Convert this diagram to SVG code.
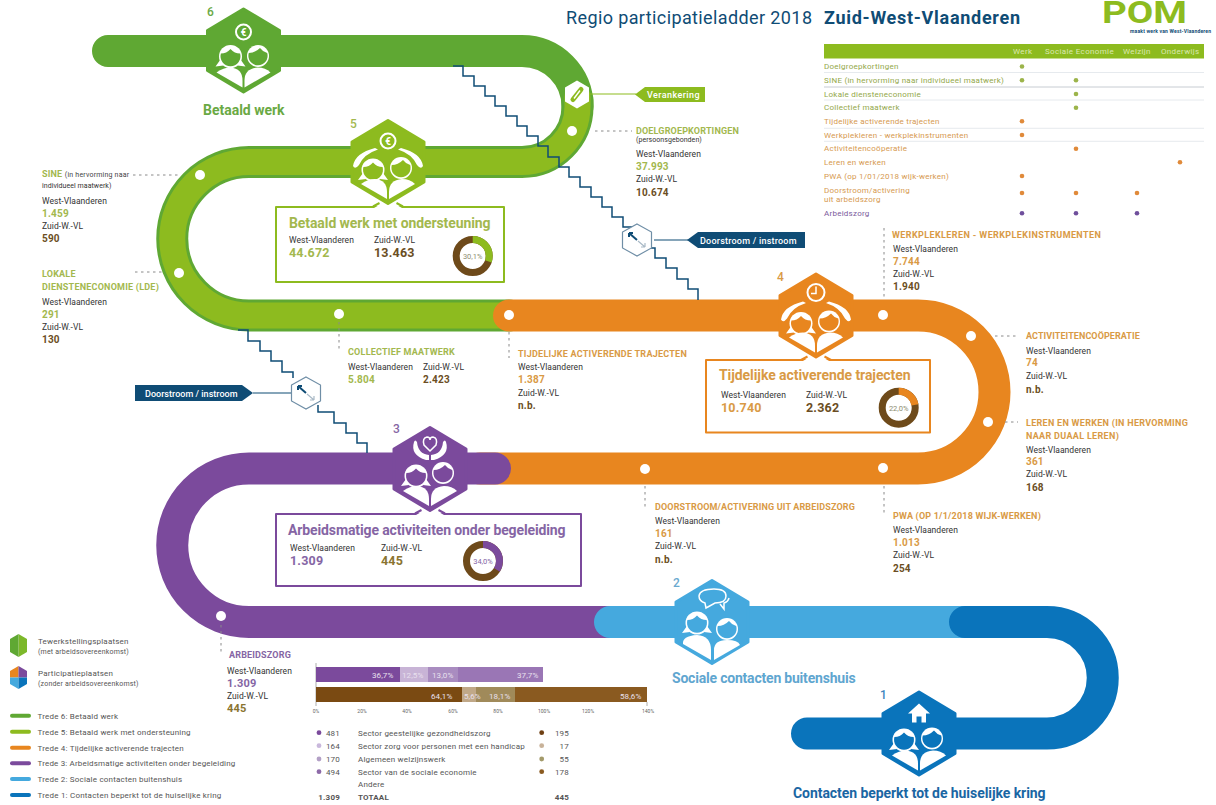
<svg xmlns="http://www.w3.org/2000/svg" xmlns:xlink="http://www.w3.org/1999/xlink" width="1216" height="805" viewBox="0 0 1216 805">
<style>
text{font-family:Roboto,"Liberation Sans",sans-serif;fill:#3c3c3c}
.band{fill:none;stroke-width:32;stroke-linecap:round}
.dg{color:#5fa833}.lg{color:#8dbb1f}.or{color:#e8861f}.pu{color:#7b4a9c}.lb{color:#45a9de}.db{color:#0a74bb}
.hex{fill:currentColor;stroke:currentColor;stroke-width:3;stroke-linejoin:round}
.w{fill:#fff}.c{fill:currentColor}
.ol{fill:none;stroke:#fff;stroke-width:2}
.box{fill:#fff;stroke:currentColor;stroke-width:2;stroke-linejoin:round}
.boxl{fill:none;stroke:currentColor;stroke-width:2}
.stair{fill:none;stroke:#0f4c75;stroke-width:1.5}
.lead{fill:none;stroke:#8a8a8a;stroke-width:1;stroke-dasharray:2.5 3.5}
.dot{fill:#fff}
.s{font-size:8.5px;letter-spacing:.05px;fill:#333}
.h{font-size:9px;font-weight:700;letter-spacing:.2px}
.v{font-size:10px;font-weight:700;letter-spacing:.2px}
.hg{fill:#a3b84e}.ho{fill:#d99a45}.hp{fill:#8565a4}.br{fill:#6b4e23}.bk{fill:#4d4d4d}
.big{font-size:14px;font-weight:700;letter-spacing:.4px}
.num{font-size:12px;font-weight:500}
.bv{font-size:12.5px;font-weight:700;letter-spacing:.2px}
.t{font-size:8px;letter-spacing:.25px}
.tg{fill:#93a84a}.to{fill:#d6994f}.tp{fill:#7b5a9c}
.th{font-size:8px;fill:#dbe8b0;letter-spacing:.35px}
.l{font-size:8px;fill:#555;letter-spacing:.2px}
.tag{font-size:9px;font-weight:500;fill:#fff;letter-spacing:.5px}
.pc{font-size:8px;fill:#e8e0ee;letter-spacing:.1px}
.tick{font-size:5px;fill:#666}
.dn{font-size:7.5px;fill:#8d8d70}
.ring{fill:none;stroke-width:7}
</style>
<defs>
<polygon id="hexa" class="hex" points="0,-41.5 36,-20 36,20 0,41.5 -36,20 -36,-20"/>
<g id="headL">
<circle class="w" r="11.5"/>
<path class="w" d="M-10,3L-15,10L-7,9ZM10,3L15,10L7,9Z"/>
<path class="c" d="M-9.600,-3Q-4,-3 0,-7.500Q4,-3 9.600,-3A10,10 0 1 1 -9.600,-3Z"/>
</g>
<g id="headR">
<circle class="w" r="11"/>
<path class="c" d="M-9.200,-3Q-3,-3 2,-8Q5,-4 9.200,-3A9.600,9.600 0 1 1 -9.200,-3Z"/>
</g>
<g id="bodies">
<path class="w" d="M-1,37L-27,22Q-20,17 -13,17Q-1,18 -1,30Z"/>
<path class="w" d="M1,37L27,22Q22,17 14,17Q1,18 1,30Z"/>
</g>
<g id="hands">
<path class="w" d="M-35,4Q-33,-9 -13,-14L-10,-12.500Q-24,-8 -29,3Q-33,8 -35,4Z"/>
<path class="w" d="M35,4Q33,-9 13,-14L10,-12.500Q24,-8 29,3Q33,8 35,4Z"/>
</g>
<g id="euro">
<circle class="ol" r="7.5" stroke-width="1.5"/>
<text text-anchor="middle" y="3.6" style="font-size:10px;font-weight:700;fill:#fff">€</text>
</g>
<path id="chev" d="M-14,46L0,38L14,46Z" fill="#fff"/>
<path id="diag" d="M-15,44.500L-8.500,41M15,44.500L8.500,41" fill="none" stroke="currentColor" stroke-width="2"/>
<path id="smallhex" d="M0,-16L14.5,-8V8L0,16L-14.5,8V-8Z" fill="#fff" stroke="#6f8ea6" stroke-width="1.2"/>
</defs>
<rect width="1216" height="805" fill="#fff"/>

<g id="ladder">
<path class="band dg" stroke="currentColor" d="M108,51H522A55.5,55.5 0 0 1 577.5,106.5"/>
<path class="band dg" stroke="currentColor" d="M577.5,100V106.5A55.5,55.5 0 0 1 522,162H249A76.75,76.75 0 0 0 249,315.5H509"/>
<path class="band lg" style="stroke-width:26" stroke="currentColor" d="M577.5,97V106.5A55.5,55.5 0 0 1 522,162H249A76.75,76.75 0 0 0 249,315.5H509"/>
<path class="band or" stroke="currentColor" d="M509,315.5H918A76.5,76.5 0 0 1 918,468.5H480"/>
<path class="band pu" stroke="currentColor" d="M495,468.5H249A76.75,76.75 0 0 0 249,622H620"/>
<path class="band lb" stroke="currentColor" d="M610,622H965"/>
<path class="band db" stroke="currentColor" d="M965,622H1047A55.75,55.75 0 0 1 1047,733.5H807"/>
<g class="dot">
<circle cx="572" cy="131" r="5"/><circle cx="200" cy="175" r="5"/><circle cx="179" cy="273" r="5"/><circle cx="339" cy="314" r="5"/>
<circle cx="509" cy="315" r="5"/><circle cx="883" cy="315" r="5"/><circle cx="971" cy="336" r="5"/><circle cx="988" cy="422" r="5"/>
<circle cx="883" cy="468" r="5"/><circle cx="645" cy="469" r="5"/><circle cx="221" cy="616" r="5"/>
</g>
</g>

<g id="connectors">
<path class="stair" d="M453,66H463V76H474V86H485V96H495V106H506V116H517V126H527V136H538V146H548V157H559V167H569V177H580V187H591V197H602V207H612V217H623V227H632"/>
<path class="stair" d="M651,248H655V258H666V268H677V279H688V289H698V300"/>
<path class="stair" d="M238,330H248V341H260V351H271V361H282V372H293V378"/>
<path class="stair" d="M318,405V412H334V423H346V433H357V443H367V453"/>
<path class="lead" d="M133,175H178M135,272H165M595,131H632M339,322V352M509,332V358M884,228V298M995,336H1018M1005,422H1018M645,486V510M884,486V515M221,625V655"/>
<path fill="none" stroke="#8dbb1f" stroke-width="1.2" d="M590,94H636"/>
<path fill="none" stroke="#0f4c75" stroke-width="1.2" d="M654,240H688M253,393H292"/>
</g>

<g id="node-6" class="dg">
<g transform="translate(243.5,50.5)">
<use href="#hexa"/>
<use href="#euro" y="-18.5"/>
<use href="#headL" x="-13" y="6"/><use href="#headR" x="14.5" y="5.5"/>
<use href="#bodies"/>
</g>
<text x="207" y="16" class="num" style="fill:#6aa944">6</text>
<text x="203" y="115" class="big" textLength="82" style="fill:#6aa944">Betaald werk</text>
</g>

<g id="node-5" class="lg">
<path class="box" d="M276,207H504V282H276Z"/>
<g transform="translate(388,162)">
<use href="#chev"/><use href="#diag"/>
<use href="#hexa"/>
<use href="#euro" y="-21"/>
<use href="#hands"/>
<use href="#headL" x="-15" y="8"/><use href="#headR" x="13" y="6"/>
<use href="#bodies"/>
</g>
<text x="350" y="128" class="num" style="fill:#a3b84e">5</text>
<text x="289" y="228" class="big" textLength="202" style="fill:#a3b84e">Betaald werk met ondersteuning</text>
<text x="289" y="243" class="s">West-Vlaanderen</text><text x="374" y="243" class="s">Zuid-W.-VL</text>
<text x="289" y="257" class="bv hg">44.672</text><text x="374" y="257" class="bv br">13.463</text>
<circle class="ring" cx="472.7" cy="256" r="16.5" stroke="#6e4a1a"/>
<circle class="ring" cx="472.7" cy="256" r="16.5" stroke="#8dbb1f" stroke-dasharray="31.2 72.5" transform="rotate(-90 472.7 256)"/>
<text x="472.7" y="259" text-anchor="middle" class="dn">30,1%</text>
</g>

<g id="node-4" class="or">
<path class="box" d="M706,360H930V432.6H706Z"/>
<g transform="translate(816,315.5)">
<use href="#chev"/><use href="#diag"/>
<use href="#hexa"/>
<circle class="ol" cy="-23" r="8.5"/>
<path class="ol" style="stroke-width:1.5" d="M0,-29V-22H-5"/>
<use href="#hands"/>
<use href="#headL" x="-15" y="8"/><use href="#headR" x="13" y="6"/>
<use href="#bodies"/>
</g>
<text x="777" y="281" class="num" style="fill:#d99a45">4</text>
<text x="719" y="380" class="big" textLength="192" style="fill:#d99a45">Tijdelijke activerende trajecten</text>
<text x="721" y="397.5" class="s">West-Vlaanderen</text><text x="806" y="397.5" class="s">Zuid-W.-VL</text>
<text x="721" y="412" class="bv ho">10.740</text><text x="806" y="412" class="bv br">2.362</text>
<circle class="ring" cx="898.7" cy="407.7" r="16.5" stroke="#6e4a1a"/>
<circle class="ring" cx="898.7" cy="407.7" r="16.5" stroke="#e8861f" stroke-dasharray="22.8 80.9" transform="rotate(-90 898.7 407.7)"/>
<text x="898.7" y="410.5" text-anchor="middle" class="dn">22,0%</text>
</g>

<g id="node-3" class="pu">
<path class="box" d="M276,514H581V586H276Z"/>
<g transform="translate(430,469)">
<use href="#chev"/><use href="#diag"/>
<use href="#hexa"/>
<path class="ol" style="stroke-width:1.5" d="M0,-18L-6,-24Q-8,-31 -3,-32Q0,-32 0,-29Q0,-32 3,-32Q8,-31 6,-24Z"/>
<path class="w" d="M-16,-27Q-20,-14 -4,-9L-1,-9V-14Q-12,-15 -13,-27Q-15,-30 -16,-27Z"/>
<path class="w" d="M16,-27Q20,-14 4,-9L1,-9V-14Q12,-15 13,-27Q15,-30 16,-27Z"/>
<use href="#headL" x="-14" y="7"/><use href="#headR" x="13" y="4"/>
<use href="#bodies"/>
</g>
<text x="393" y="433" class="num" style="fill:#8565a4">3</text>
<text x="288" y="535" class="big" textLength="278" style="fill:#8565a4">Arbeidsmatige activiteiten onder begeleiding</text>
<text x="290" y="551" class="s">West-Vlaanderen</text><text x="381" y="551" class="s">Zuid-W.-VL</text>
<text x="290" y="565" class="bv hp">1.309</text><text x="381" y="565" class="bv" style="fill:#8a7430">445</text>
<circle class="ring" cx="483" cy="561" r="16.5" stroke="#6e4a1a"/>
<circle class="ring" cx="483" cy="561" r="16.5" stroke="#7b4a9c" stroke-dasharray="35.2 68.5" transform="rotate(-90 483 561)"/>
<text x="483" y="564" text-anchor="middle" class="dn" style="fill:#8565a4">34,0%</text>
</g>

<g id="node-2" class="lb">
<g transform="translate(712,622)">
<use href="#hexa"/>
<path class="ol" style="stroke-width:1.5" d="M-7,-19Q-13,-21 -13,-26Q-12,-33 2,-33Q14,-33 14,-26Q14,-19 3,-19L-6,-14Z"/>
<path class="ol" style="stroke-width:1.5" d="M8,-18L12,-13V-19Q16,-20 17,-24"/>
<use href="#headL" x="-15" y="1"/><use href="#headR" x="15" y="7"/>
<path class="w" d="M-1,38L-29,22Q-30,14 -15,13Q-1,14 -1,28Z"/>
<path class="w" d="M2,38L28,23Q26,18 15,18Q2,18 2,28Z"/>
</g>
<text x="673" y="587" class="num" style="fill:#6aa9cf">2</text>
<text x="672" y="683" class="big" textLength="184" style="fill:#5fa6d0">Sociale contacten buitenshuis</text>
</g>

<g id="node-1" class="db">
<g transform="translate(919,733.5)">
<use href="#hexa"/>
<path class="w" d="M0,-30L11,-20H7V-11H2.5V-17H-2.5V-11H-7V-20H-11Z"/>
<use href="#headL" x="-15" y="6.5"/><use href="#headR" x="13" y="5"/>
<use href="#bodies"/>
</g>
<text x="880" y="699" class="num" style="fill:#3f86bd">1</text>
<text x="793" y="798" class="big" textLength="253" style="fill:#1a66a3">Contacten beperkt tot de huiselijke kring</text>
</g>

<g id="verankering">
<g transform="translate(577,94.5)"><path d="M0,-14L12,-7V7L0,14L-12,7V-7Z" fill="#fff"/>
<path d="M-4,5L4,-5" stroke="#8dbb1f" stroke-width="5" stroke-linecap="round"/><path d="M-3,4L3,-4" stroke="#fff" stroke-width="1.4"/></g>
<path d="M635,94.5L645,87H705V102H645Z" fill="#8dbb1f"/>
<text x="647" y="98" class="tag" textLength="53">Verankering</text>
</g>

<g id="doorstroom-rechts">
<use href="#smallhex" x="637" y="240"/>
<path d="M629,233L637,240M629,233H633M629,233V237" fill="none" stroke="#0f4c75" stroke-width="2"/>
<path d="M638,241L645,247M645,247H641M645,247V243" fill="none" stroke="#a9b9c6" stroke-width="1.2"/>
<path d="M687,240L698,232H805V248H698Z" fill="#0f4c75"/>
<text x="700" y="244" class="tag" textLength="97">Doorstroom / instroom</text>
</g>

<g id="doorstroom-links">
<use href="#smallhex" x="306" y="393"/>
<path d="M298,386L306,393M298,386H302M298,386V390" fill="none" stroke="#0f4c75" stroke-width="2"/>
<path d="M307,394L314,400M314,400H310M314,400V396" fill="none" stroke="#a9b9c6" stroke-width="1.2"/>
<path d="M253,393L242,385H135V401H242Z" fill="#0f4c75"/>
<text x="145" y="397" class="tag" textLength="93">Doorstroom / instroom</text>
</g>

<g id="label-sine">
<text x="42" y="177" class="h hg">SINE <tspan style="font-size:7px;font-weight:400;fill:#444">(in hervorming naar</tspan></text>
<text x="42" y="188" class="s" style="font-size:7px">individueel maatwerk)</text>
<text x="42" y="204" class="s">West-Vlaanderen</text><text x="42" y="216.5" class="v hg">1.459</text>
<text x="42" y="229" class="s">Zuid-W.-VL</text><text x="42" y="242" class="v br">590</text>
</g>
<g id="label-lde">
<text x="42" y="277" class="h hg">LOKALE</text>
<text x="42" y="290" class="h hg" textLength="117">DIENSTENECONOMIE (LDE)</text>
<text x="42" y="305" class="s">West-Vlaanderen</text><text x="42" y="317.5" class="v hg">291</text>
<text x="42" y="330" class="s">Zuid-W.-VL</text><text x="42" y="343" class="v br">130</text>
</g>
<g id="label-doelgroep">
<text x="636" y="134" class="h hg" textLength="103">DOELGROEPKORTINGEN</text>
<text x="636" y="142" class="s" style="font-size:7px">(persoonsgebonden)</text>
<text x="636" y="157" class="s">West-Vlaanderen</text><text x="636" y="170" class="v hg">37.993</text>
<text x="636" y="182" class="s">Zuid-W.-VL</text><text x="636" y="195.5" class="v br">10.674</text>
</g>
<g id="label-collectief">
<text x="348" y="355" class="h hg" textLength="107">COLLECTIEF MAATWERK</text>
<text x="348" y="370" class="s">West-Vlaanderen</text><text x="423" y="370" class="s">Zuid-W.-VL</text>
<text x="348" y="383" class="v hg">5.804</text><text x="423" y="383" class="v br">2.423</text>
</g>
<g id="label-tijdelijk">
<text x="518" y="356.5" class="h ho" textLength="169">TIJDELIJKE ACTIVERENDE TRAJECTEN</text>
<text x="518" y="370" class="s">West-Vlaanderen</text><text x="518" y="382.5" class="v ho">1.387</text>
<text x="518" y="395.5" class="s">Zuid-W.-VL</text><text x="518" y="408.5" class="v br">n.b.</text>
</g>
<g id="label-werkplek">
<text x="892" y="237.5" class="h ho" textLength="209">WERKPLEKLEREN - WERKPLEKINSTRUMENTEN</text>
<text x="893" y="252" class="s">West-Vlaanderen</text><text x="893" y="264.5" class="v ho">7.744</text>
<text x="893" y="277" class="s">Zuid-W.-VL</text><text x="893" y="290" class="v br">1.940</text>
</g>
<g id="label-activiteiten">
<text x="1026" y="339" class="h ho" textLength="114">ACTIVITEITENCOÖPERATIE</text>
<text x="1026" y="354" class="s">West-Vlaanderen</text><text x="1026" y="366" class="v ho">74</text>
<text x="1026" y="379" class="s">Zuid-W.-VL</text><text x="1026" y="392.5" class="v br">n.b.</text>
</g>
<g id="label-leren">
<text x="1026" y="426" class="h ho" textLength="162">LEREN EN WERKEN (IN HERVORMING</text>
<text x="1026" y="439" class="h ho" textLength="93">NAAR DUAAL LEREN)</text>
<text x="1026" y="452.5" class="s">West-Vlaanderen</text><text x="1026" y="465" class="v ho">361</text>
<text x="1026" y="477" class="s">Zuid-W.-VL</text><text x="1026" y="490.5" class="v br">168</text>
</g>
<g id="label-doorstroom">
<text x="655" y="509.5" class="h ho" textLength="200">DOORSTROOM/ACTIVERING UIT ARBEIDSZORG</text>
<text x="655" y="524" class="s">West-Vlaanderen</text><text x="655" y="536.5" class="v ho">161</text>
<text x="655" y="549" class="s">Zuid-W.-VL</text><text x="655" y="562.5" class="v br">n.b.</text>
</g>
<g id="label-pwa">
<text x="893" y="519" class="h ho" textLength="148">PWA (OP 1/1/2018 WIJK-WERKEN)</text>
<text x="893" y="533" class="s">West-Vlaanderen</text><text x="893" y="545.5" class="v ho">1.013</text>
<text x="893" y="558" class="s">Zuid-W.-VL</text><text x="893" y="571.5" class="v br">254</text>
</g>
<g id="label-arbeidszorg">
<text x="229" y="658" class="h hp" textLength="62">ARBEIDSZORG</text>
<text x="227" y="674" class="s">West-Vlaanderen</text><text x="227" y="687" class="v hp" style="font-size:11px">1.309</text>
<text x="227" y="699" class="s">Zuid-W.-VL</text><text x="227" y="712" class="v" style="font-size:11px;fill:#8a7430">445</text>
</g>

<g id="title">
<text x="566" y="24" style="font-size:18px;fill:#0f4c75" textLength="246">Regio participatieladder 2018</text>
<text x="824" y="24" style="font-size:18px;font-weight:700;fill:#0f4c75" textLength="196">Zuid-West-Vlaanderen</text>
</g>
<g id="logo">
<text x="1102" y="23" style="font-size:31px;font-weight:700;fill:#8dbb1f" textLength="85" lengthAdjust="spacingAndGlyphs">POM</text>
<text x="1130" y="33" style="font-size:5px;font-weight:700;fill:#0f4c75" textLength="81">maakt werk van West-Vlaanderen</text>
</g>

<g id="matrix">
<rect x="824" y="44" width="380" height="14.5" fill="#8dbb1f"/>
<text x="1013" y="54" class="th">Werk</text><text x="1045" y="54" class="th">Sociale Economie</text><text x="1123" y="54" class="th">Welzijn</text><text x="1161" y="54" class="th">Onderwijs</text>
<path d="M824,72.5H1204M824,100H1204M824,128.3H1204M824,141.3H1204" stroke="#dfe5ea" stroke-width=".8"/>
<path d="M824,87H1204" stroke="#b9bfc6" stroke-width=".8"/>
<text x="824" y="69" class="t tg">Doelgroepkortingen</text>
<text x="824" y="83" class="t tg">SINE (in hervorming naar individueel maatwerk)</text>
<text x="824" y="96.5" class="t tg">Lokale diensteneconomie</text>
<text x="824" y="110" class="t tg">Collectief maatwerk</text>
<text x="824" y="124" class="t to">Tijdelijke activerende trajecten</text>
<text x="824" y="137.5" class="t to">Werkplekleren - werkplekinstrumenten</text>
<text x="824" y="151" class="t to">Activiteitencoöperatie</text>
<text x="824" y="165" class="t to">Leren en werken</text>
<text x="824" y="178.5" class="t to">PWA (op 1/01/2018 wijk-werken)</text>
<text x="824" y="192.5" class="t to">Doorstroom/activering</text>
<text x="824" y="202" class="t to">uit arbeidszorg</text>
<text x="824" y="216" class="t tp">Arbeidszorg</text>
<g fill="#9cb44a">
<circle cx="1022" cy="66.5" r="2.3"/><circle cx="1022" cy="80.3" r="2.3"/><circle cx="1076" cy="80.3" r="2.3"/><circle cx="1076" cy="94" r="2.3"/><circle cx="1076" cy="107.7" r="2.3"/>
</g>
<g fill="#e08a3a">
<circle cx="1022" cy="121.3" r="2.3"/><circle cx="1022" cy="135" r="2.3"/><circle cx="1076" cy="148.7" r="2.3"/><circle cx="1180" cy="162.3" r="2.3"/><circle cx="1022" cy="176" r="2.3"/>
<circle cx="1022" cy="193" r="2.3"/><circle cx="1076" cy="193" r="2.3"/><circle cx="1137" cy="193" r="2.3"/>
</g>
<g fill="#6f4f9c"><circle cx="1022" cy="213.3" r="2.3"/><circle cx="1076" cy="213.3" r="2.3"/><circle cx="1137" cy="213.3" r="2.3"/></g>
</g>

<g id="legend">
<path d="M18.5,634L27,639V652L18.5,657Z" fill="#7cb82a"/><path d="M18.5,634L10,639V652L18.5,657Z" fill="#5fa833"/>
<path d="M18.5,666V677.5H10V671Z" fill="#e8861f"/><path d="M18.5,666V677.5H27V671Z" fill="#7b4a9c"/>
<path d="M18.5,689V677.5H10V684Z" fill="#45a9de"/><path d="M18.5,689V677.5H27V684Z" fill="#0a74bb"/>
<text x="38" y="644" class="l">Tewerkstellingsplaatsen</text>
<text x="38" y="654" class="l" style="font-size:7px">(met arbeidsovereenkomst)</text>
<text x="38" y="676" class="l">Participatieplaatsen</text>
<text x="38" y="686" class="l" style="font-size:7px">(zonder arbeidsovereenkomst)</text>
<g fill="none" stroke-width="4" stroke-linecap="round">
<path d="M12,715.7H29" stroke="#5fa833"/><path d="M12,731.7H29" stroke="#8dbb1f"/><path d="M12,747.7H29" stroke="#e8861f"/>
<path d="M12,763.3H29" stroke="#7b4a9c"/><path d="M12,779H29" stroke="#45a9de"/><path d="M12,795H29" stroke="#0a74bb"/>
</g>
<text x="37.5" y="718.5" class="l">Trede 6: Betaald werk</text>
<text x="37.5" y="734.5" class="l">Trede 5: Betaald werk met ondersteuning</text>
<text x="37.5" y="750.5" class="l">Trede 4: Tijdelijke activerende trajecten</text>
<text x="37.5" y="766" class="l" textLength="198">Trede 3: Arbeidsmatige activiteiten onder begeleiding</text>
<text x="37.5" y="782" class="l">Trede 2: Sociale contacten buitenshuis</text>
<text x="37.5" y="798" class="l" textLength="184">Trede 1: Contacten beperkt tot de huiselijke kring</text>
</g>

<g id="chart">
<path d="M316,663V706M647,702V706" stroke="#999" stroke-width=".8" fill="none"/>
<rect x="316" y="667" width="84" height="15" fill="#7b4a9c"/><rect x="400" y="667" width="28" height="15" fill="#c8b4d6"/><rect x="428" y="667" width="30" height="15" fill="#a98cc0"/><rect x="458" y="667" width="85" height="15" fill="#9a76b5"/>
<rect x="316" y="687" width="146" height="15" fill="#7a4a12"/><rect x="462" y="687" width="14" height="15" fill="#c0a888"/><rect x="476" y="687" width="39" height="15" fill="#a08a5a"/><rect x="515" y="687" width="132" height="15" fill="#8a5a20"/>
<text x="372" y="678" class="pc">36,7%</text><text x="402" y="678" class="pc">12,5%</text><text x="432" y="678" class="pc">13,0%</text><text x="517" y="678" class="pc">37,7%</text>
<text x="431" y="699" class="pc">64,1%</text><text x="464" y="699" class="pc">5,6%</text><text x="489" y="699" class="pc">18,1%</text><text x="620" y="699" class="pc">58,6%</text>
<g text-anchor="middle"><text x="316" y="713" class="tick">0%</text><text x="362" y="713" class="tick">20%</text><text x="407" y="713" class="tick">40%</text><text x="453" y="713" class="tick">60%</text><text x="498" y="713" class="tick">80%</text><text x="544" y="713" class="tick">100%</text><text x="588" y="713" class="tick">120%</text><text x="648" y="713" class="tick">140%</text></g>
<circle cx="319" cy="732.7" r="2.4" fill="#7b4a9c"/><circle cx="319" cy="745.7" r="2.4" fill="#c9b8dc"/><circle cx="319" cy="759" r="2.4" fill="#b3a0c6"/><circle cx="319" cy="771.7" r="2.4" fill="#8d6aa8"/>
<circle cx="541.7" cy="732.7" r="2.4" fill="#6e3f12"/><circle cx="541.7" cy="745.7" r="2.4" fill="#c8b299"/><circle cx="541.7" cy="759" r="2.4" fill="#a39a6a"/><circle cx="541.7" cy="771.7" r="2.4" fill="#8a5a20"/>
<g text-anchor="end">
<text x="340" y="735.5" class="l">481</text><text x="340" y="748.5" class="l">164</text><text x="340" y="762" class="l">170</text><text x="340" y="774.5" class="l">494</text>
<text x="340" y="799.5" class="l" style="font-weight:700">1.309</text>
<text x="569" y="735.5" class="l">195</text><text x="569" y="748.5" class="l">17</text><text x="569" y="762" class="l">55</text><text x="569" y="774.5" class="l">178</text>
<text x="569" y="799.5" class="l" style="font-weight:700">445</text>
</g>
<text x="358" y="735.5" class="l">Sector geestelijke gezondheidszorg</text>
<text x="358" y="748.5" class="l" textLength="167">Sector zorg voor personen met een handicap</text>
<text x="358" y="762" class="l">Algemeen welzijnswerk</text>
<text x="358" y="774.5" class="l">Sector van de sociale economie</text>
<text x="358" y="787" class="l">Andere</text>
<text x="358" y="799.5" class="l" style="font-weight:700">TOTAAL</text>
</g>
</svg>
